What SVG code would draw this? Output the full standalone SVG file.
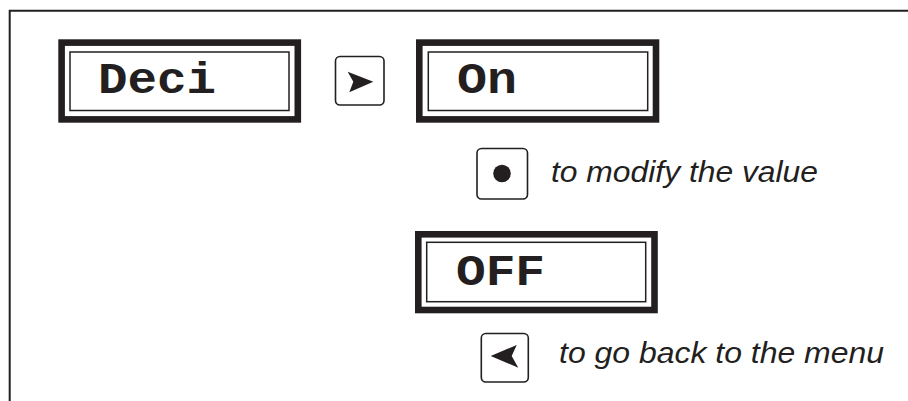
<svg xmlns="http://www.w3.org/2000/svg" width="908" height="401" viewBox="0 0 908 401">
<style>
.outer{fill:#fff;stroke:#231f20;stroke-width:6.6}
.inner{fill:none;stroke:#231f20;stroke-width:1.5}
.btn{fill:#fff;stroke:#231f20;stroke-width:1.6}
.mono{font-family:"Liberation Mono","Courier New",monospace;font-weight:bold;font-size:45px;fill:#231f20}
.note{font-family:"Liberation Sans",Arial,sans-serif;font-style:italic;font-size:30px;fill:#231f20}
.frame{fill:none;stroke:#231f20;stroke-width:2}
</style>
<rect width="908" height="401" fill="#fff"/>
<path class="frame" d="M908,10.8 H9.7 V401"/>
<g id="node-deci">
<rect class="outer" x="61.6" y="42.6" width="236.2" height="76.8"/>
<rect class="inner" x="70" y="52" width="219" height="58.5"/>
<text class="mono" x="98" y="92.7" textLength="118" lengthAdjust="spacingAndGlyphs">Deci</text>
</g>
<g id="node-right-button">
<rect class="btn" x="335.5" y="56.5" width="48.5" height="48.5" rx="4.5"/>
<path d="M347.7,71.7 L373.3,81.7 L349.3,92.3 L353.3,81.7 Z" fill="#231f20"/>
</g>
<g id="node-on">
<rect class="outer" x="419.3" y="42.6" width="236.7" height="76.8"/>
<rect class="inner" x="428.3" y="52" width="219.4" height="58.5"/>
<text class="mono" x="457" y="92.7" textLength="60" lengthAdjust="spacingAndGlyphs">On</text>
</g>
<g id="node-dot-button">
<rect class="btn" x="477" y="148.5" width="50.5" height="50.5" rx="4.5"/>
<circle cx="502" cy="173.5" r="8.8" fill="#231f20"/>
<text class="note" x="551" y="182" textLength="267" lengthAdjust="spacingAndGlyphs">to modify the value</text>
</g>
<g id="node-off">
<rect class="outer" x="418.3" y="234.3" width="236.2" height="75.7"/>
<rect class="inner" x="426.7" y="242.3" width="219" height="59.4"/>
<text class="mono" x="456" y="285" textLength="89" lengthAdjust="spacingAndGlyphs">OFF</text>
</g>
<g id="node-left-button">
<rect class="btn" x="481.3" y="333.5" width="47" height="48.5" rx="4.5"/>
<path d="M490.7,356 L516.7,345 L511.7,356 L518.3,367.7 Z" fill="#231f20"/>
<text class="note" x="559" y="363.3" textLength="325" lengthAdjust="spacingAndGlyphs">to go back to the menu</text>
</g>
<g id="connectors"></g>
</svg>
